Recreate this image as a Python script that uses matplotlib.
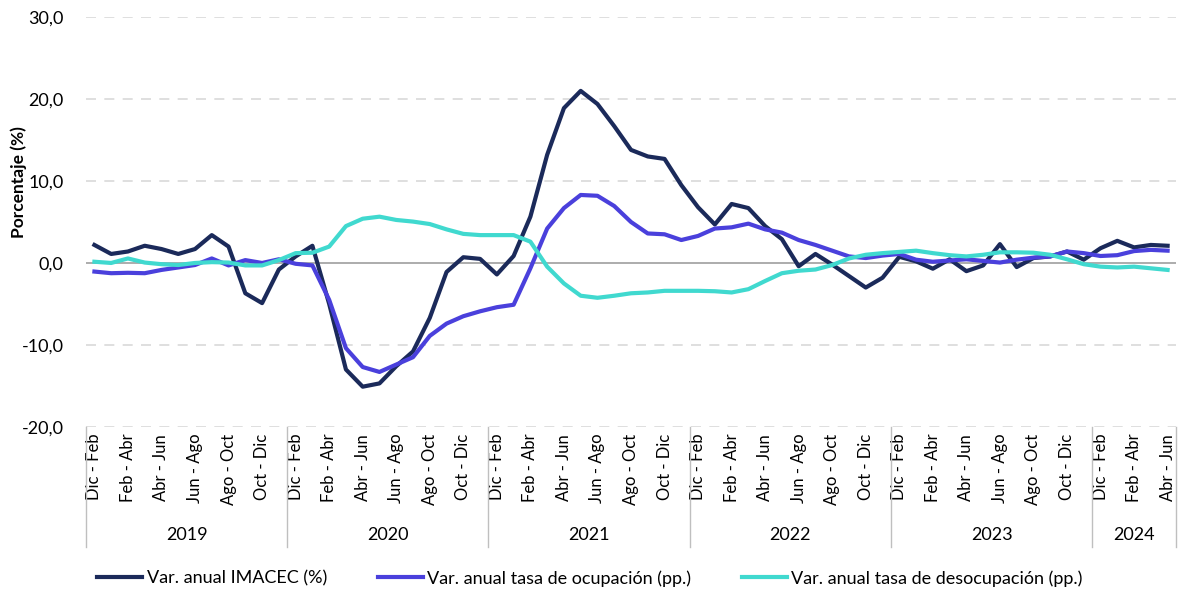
import matplotlib.pyplot as plt
import matplotlib.transforms as mtransforms

plt.rcParams['font.family'] = ['Lato', 'DejaVu Sans']

# trimestres móviles, desde Dic-Feb 2019 hasta Abr-Jun 2024
years = ["2019", "2020", "2021", "2022", "2023", "2024"]
months_per_year = [12, 12, 12, 12, 12, 5]
tick_names = ["Dic - Feb", "Feb - Abr", "Abr - Jun", "Jun - Ago", "Ago - Oct", "Oct - Dic"]

imacec = [2.2, 1.1, 1.4, 2.1, 1.7, 1.1, 1.7, 3.4, 2.0, -3.7, -4.9, -0.8,
          0.8, 2.1, -5.0, -13.0, -15.1, -14.7, -12.6, -10.8, -6.7, -1.1, 0.7, 0.5,
          -1.4, 0.85, 5.65, 13.2, 18.9, 21.0, 19.4, 16.7, 13.8, 13.0, 12.7, 9.5,
          6.8, 4.7, 7.2, 6.7, 4.5, 2.9, -0.4, 1.1, -0.2, -1.6, -3.0, -1.8,
          0.75, 0.2, -0.7, 0.45, -1.0, -0.3, 2.3, -0.5, 0.6, 0.8, 1.4, 0.4,
          1.8, 2.7, 1.9, 2.2, 2.1]

ocupacion = [-1.05, -1.25, -1.2, -1.25, -0.85, -0.55, -0.25, 0.55, -0.3, 0.35, 0.0, 0.45,
             -0.1, -0.3, -4.5, -10.4, -12.7, -13.3, -12.4, -11.5, -8.9, -7.4, -6.5, -5.9,
             -5.4, -5.1, -0.65, 4.2, 6.7, 8.3, 8.2, 6.95, 5.0, 3.6, 3.5, 2.8,
             3.3, 4.2, 4.35, 4.8, 4.1, 3.7, 2.8, 2.2, 1.5, 0.8, 0.6, 0.9,
             1.1, 0.4, 0.15, 0.3, 0.45, 0.25, 0.05, 0.4, 0.65, 0.8, 1.4, 1.2,
             0.85, 0.95, 1.45, 1.6, 1.5]

desocupacion = [0.15, 0.0, 0.55, 0.05, -0.15, -0.25, 0.0, 0.1, 0.05, -0.3, -0.3, 0.35,
                1.2, 1.25, 2.0, 4.5, 5.4, 5.65, 5.25, 5.05, 4.75, 4.1, 3.55, 3.4,
                3.4, 3.4, 2.6, -0.45, -2.5, -4.0, -4.25, -4.0, -3.7, -3.6, -3.4, -3.4,
                -3.4, -3.45, -3.6, -3.2, -2.2, -1.25, -0.95, -0.8, -0.25, 0.55, 1.0, 1.2,
                1.35, 1.5, 1.2, 0.95, 0.8, 1.0, 1.3, 1.3, 1.25, 1.0, 0.45, -0.15,
                -0.45, -0.55, -0.45, -0.65, -0.85]

x = list(range(len(imacec)))

fig = plt.figure(figsize=(11.8, 5.92), dpi=100)
ax = fig.add_axes([0.0729, 0.279, 0.9237, 0.692])

ax.axhline(0, color="#A6A6A6", lw=1.3, zorder=1)
ax.plot(x, imacec, color="#1B2A5A", lw=3, label="Var. anual IMACEC (%)", zorder=3)
ax.plot(x, ocupacion, color="#4A40DC", lw=3, label="Var. anual tasa de ocupación (pp.)", zorder=3)
ax.plot(x, desocupacion, color="#40D9CF", lw=3, label="Var. anual tasa de desocupación (pp.)", zorder=3)

ax.set_xlim(-0.5, len(x) - 0.5)
ax.set_ylim(-20, 30)
ax.set_yticks([-20, -10, 0, 10, 20, 30])
ax.set_yticklabels(["-20,0", "-10,0", "0,0", "10,0", "20,0", "30,0"], fontsize=13)
for v in [-20, -10, 10, 20, 30]:
    ax.axhline(v, color="#D9D9D9", lw=1.2, ls=(0, (6, 5)), zorder=0)
for s in ax.spines.values():
    s.set_visible(False)
ax.tick_params(axis="y", length=0, pad=16)

# etiquetas de meses, cada dos periodos
ticks = []
labels = []
start = 0
for n in months_per_year:
    for k in range(0, n, 2):
        ticks.append(start + k)
        labels.append(tick_names[k // 2])
    start += n
ax.set_xticks(ticks)
ax.set_xticklabels(labels, rotation=90, fontsize=12)
ax.tick_params(axis="x", length=0, pad=5)

# años y separadores
trans = mtransforms.blended_transform_factory(ax.transData, ax.transAxes)
start = 0
for yr, n in zip(years, months_per_year):
    ax.plot([start - 0.5, start - 0.5], [0, -0.293], transform=trans, color="#BFBFBF",
            lw=1, clip_on=False)
    ax.text(start + n / 2 - 0.5, -0.263, yr, transform=trans, ha="center", va="center",
            fontsize=13)
    start += n
ax.plot([start - 0.5, start - 0.5], [0, -0.293], transform=trans, color="#BFBFBF",
        lw=1, clip_on=False)

ax.set_ylabel("Porcentaje (%)", fontsize=12.5, fontweight="bold")
ax.yaxis.set_label_coords(-0.054, 0.598)

fig.legend(loc="center", bbox_to_anchor=(0.5, 0.023), ncol=3, frameon=False,
           fontsize=13, handlelength=2.5, columnspacing=2.8, handletextpad=0.25)

fig.savefig("out.png", dpi=100)
